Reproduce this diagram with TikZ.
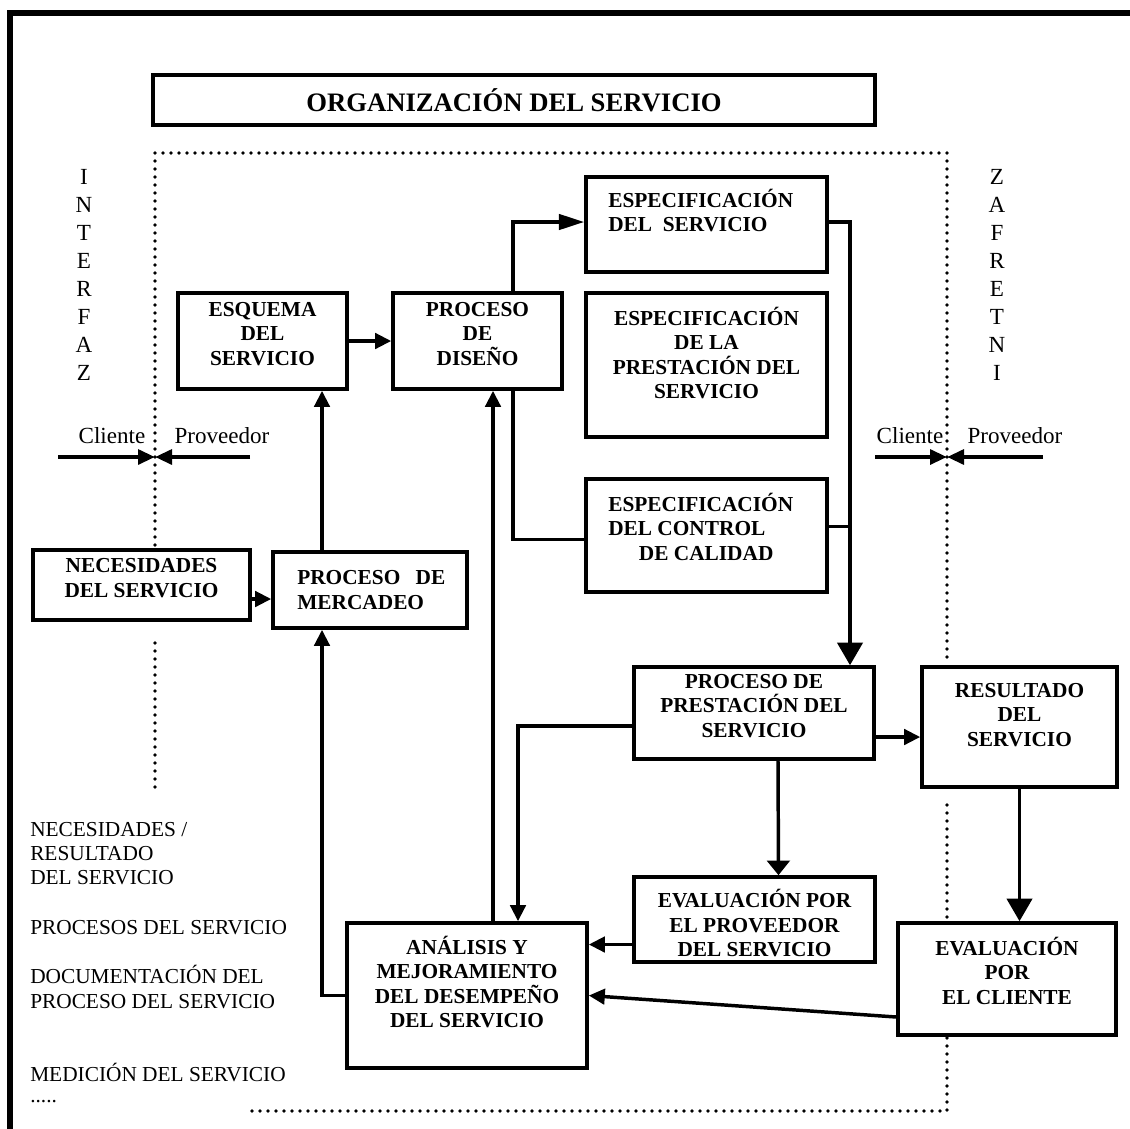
\documentclass[tikz,border=0pt]{standalone}
\usepackage{fontspec}
\setmainfont{Liberation Serif}
\usetikzlibrary{arrows.meta,calc,fit}

\begin{document}
\begin{tikzpicture}[x=0.75pt,y=-0.75pt,
  box/.style={draw, line width=2.7pt, fill=white, inner sep=0pt},
  bt/.style={font=\fontsize{16}{18.4}\selectfont\bfseries, align=center, inner sep=0pt},
  bl/.style={font=\fontsize{16}{18.4}\selectfont\bfseries, align=left, inner sep=0pt},
  rt/.style={font=\fontsize{16}{18}\selectfont, anchor=base west, inner sep=0pt},
  side/.style={font=\fontsize{17.3}{21}\selectfont, align=center, inner sep=0pt},
  conn/.style={line width=2.6pt},
  sa/.style={conn, -{Triangle[length=12pt,width=11.5pt]}},
  la/.style={conn, -{Triangle[length=17pt,width=19pt]}},
  ia/.style={line width=3pt, -{Triangle[length=12.75pt,width=11pt]}},
  dotline/.style={line width=2.8pt, dash pattern=on 0pt off 6pt, line cap=round},
  frameline/.style={line width=4.5pt}
]
\useasboundingbox (0,0) rectangle (1130,1128);
\clip (0,0) rectangle (1130,1128);

% outer frame
\draw[frameline] (10,1140) -- (10,13) -- (1140,13);

% interface (dotted) boundary
\draw[dotline] (155,553) -- (155,153) -- (947,153) -- (947,663);
\draw[dotline] (155,643) -- (155,788);
\draw[dotline] (947,805) -- (947,927);
\draw[dotline] (947,1038) -- (947,1111) -- (248,1111);

% vertical words
\node[side] (ifzl) at (84,275) {I\\N\\T\\E\\R\\F\\A\\Z};
\node[side] (ifzr) at (997,275) {Z\\A\\F\\R\\E\\T\\N\\I};

% client / provider markers
\node[side, anchor=base] (cl1) at (112,443) {Cliente};
\node[side, anchor=base] (pr1) at (222,443) {Proveedor};
\node[side, anchor=base] (cl2) at (910,443) {Cliente};
\node[side, anchor=base] (pr2) at (1015,443) {Proveedor};
\coordinate (ml) at (155,457);
\coordinate (mla) at (58,457);
\coordinate (mlb) at (250,457);
\coordinate (mr) at (947,457);
\coordinate (mra) at (875,457);
\coordinate (mrb) at (1043,457);
\draw[ia] (mla) -- (ml);
\draw[ia] (mlb) -- (ml);
\draw[ia] (mra) -- (mr);
\draw[ia] (mrb) -- (mr);

% title
\node[box, fit={(153,75) (875,125)}] (org) {};
\node[bt, font=\fontsize{20}{24}\selectfont\bfseries] (orgt) at (org.center) {ORGANIZACIÓN DEL SERVICIO};

% boxes
\node[box, bt, fit={(178,293) (347,389)}] (esq) {ESQUEMA\\DEL\\SERVICIO};
\node[box, bt, fit={(393,293) (562,389)}] (dis) {PROCESO\\DE\\DISEÑO};

\node[box, fit={(586,177) (827,272)}] (esps) {};
\node[bl, anchor=west] (espst) at (608,210.5) {ESPECIFICACIÓN\\DEL\ \ SERVICIO};

\node[box, fit={(586,293) (827,437)}] (espp) {};
\node[bt] (esppt) at (706.5,353) {ESPECIFICACIÓN\\DE LA\\PRESTACIÓN DEL\\SERVICIO};

\node[box, fit={(586,479) (827,592)}] (espc) {};
\node[bl, anchor=west] (espct) at (608,526.5) {ESPECIFICACIÓN\\DEL CONTROL\\\hspace*{23pt}DE CALIDAD};

\node[box, bt, fit={(33,550) (250,620)}] (nec) {NECESIDADES\\DEL SERVICIO};

\node[box, fit={(273,552) (467,628)}] (merc) {};
\node[bl, anchor=west] (merct) at (297,590) {PROCESO\hspace{11.5pt}DE\\MERCADEO};

\node[box, bt, fit={(634,667) (874,759)}] (prest) {PROCESO DE\\PRESTACIÓN DEL\\SERVICIO};

\node[box, fit={(922,667) (1117,787)}] (res) {};
\node[bt] (rest) at (1019.5,715) {RESULTADO\\DEL\\SERVICIO};

\node[box, fit={(634,877) (875,962)}] (evp) {};
\node[bt] (evpt) at (754.5,923) {EVALUACIÓN POR\\EL PROVEEDOR\\DEL SERVICIO};

\node[box, fit={(898,923) (1116,1035)}] (evc) {};
\node[bt] (evct) at (1007,970.5) {EVALUACIÓN\\POR\\EL CLIENTE};

\node[box, fit={(347,923) (587,1068)}] (ana) {};
\node[bt] (anat) at (467,982) {ANÁLISIS Y\\MEJORAMIENTO\\DEL DESEMPEÑO\\DEL SERVICIO};

% connectors
\draw[sa] ($(nec.east)+(0,14)$) -- ($(merc.west)+(0,9)$);
\coordinate (mx) at ($(merc.north)+(-48,0)$);
\draw[sa] (mx) -- (mx |- esq.south);
\draw[sa] (esq.east) -- (dis.west);

\coordinate (dx) at ($(dis.north)+(35.5,0)$);
\draw[conn, -{Triangle[length=19pt,width=11.5pt]}] (dx) |- ($(esps.west)+(0,-2.5)$);
\draw[conn] (dis.south -| dx) |- ($(espc.west)+(0,4)$);

\coordinate (rx) at ($(prest.north)+(96,0)$);
\draw[la] ($(esps.east)+(0,-2.5)$) -| (rx);
\coordinate (cq) at ($(espc.east)+(0,-9)$);
\draw[conn] (cq) -- (cq -| rx);

\coordinate (pw) at ($(prest.west)+(0,13)$);
\draw[sa] (pw) -| ($(ana.north)+(51,0)$);
\draw[conn, -{Triangle[length=11pt,width=17pt]}] ($(prest.south)+(24,0)$) -- ($(evp.north)+(24,0)$);
\coordinate (pe) at ($(prest.east)+(0,24)$);
\draw[sa] (pe) -- (pe -| res.west);
\draw[la] (res.south) -- (res.south |- evc.north);

\coordinate (ew) at ($(evp.west)+(0,25)$);
\draw[sa] (ew) -- (ew -| ana.east);
\draw[sa] ($(evc.west)+(0,38)$) -- (ana.east);

\coordinate (ax) at ($(ana.north)+(26,0)$);
\draw[sa] (ax) -- (ax |- dis.south);
\draw[sa] (ana.west) -- (ana.west -| mx) -- (mx |- merc.south);

% legend of levels
\node[rt] (lv1) at (30,836) {NECESIDADES /};
\node[rt] (lv2) at (30,860) {RESULTADO};
\node[rt] (lv3) at (30,884) {DEL SERVICIO};
\node[rt] (lv4) at (30,934) {PROCESOS DEL SERVICIO};
\node[rt] (lv5) at (30,983) {DOCUMENTACIÓN DEL};
\node[rt] (lv6) at (30,1008) {PROCESO DEL SERVICIO};
\node[rt] (lv7) at (30,1081) {MEDICIÓN DEL SERVICIO};
\node[rt] (lv8) at (30,1102) {.....};
\end{tikzpicture}
\end{document}
